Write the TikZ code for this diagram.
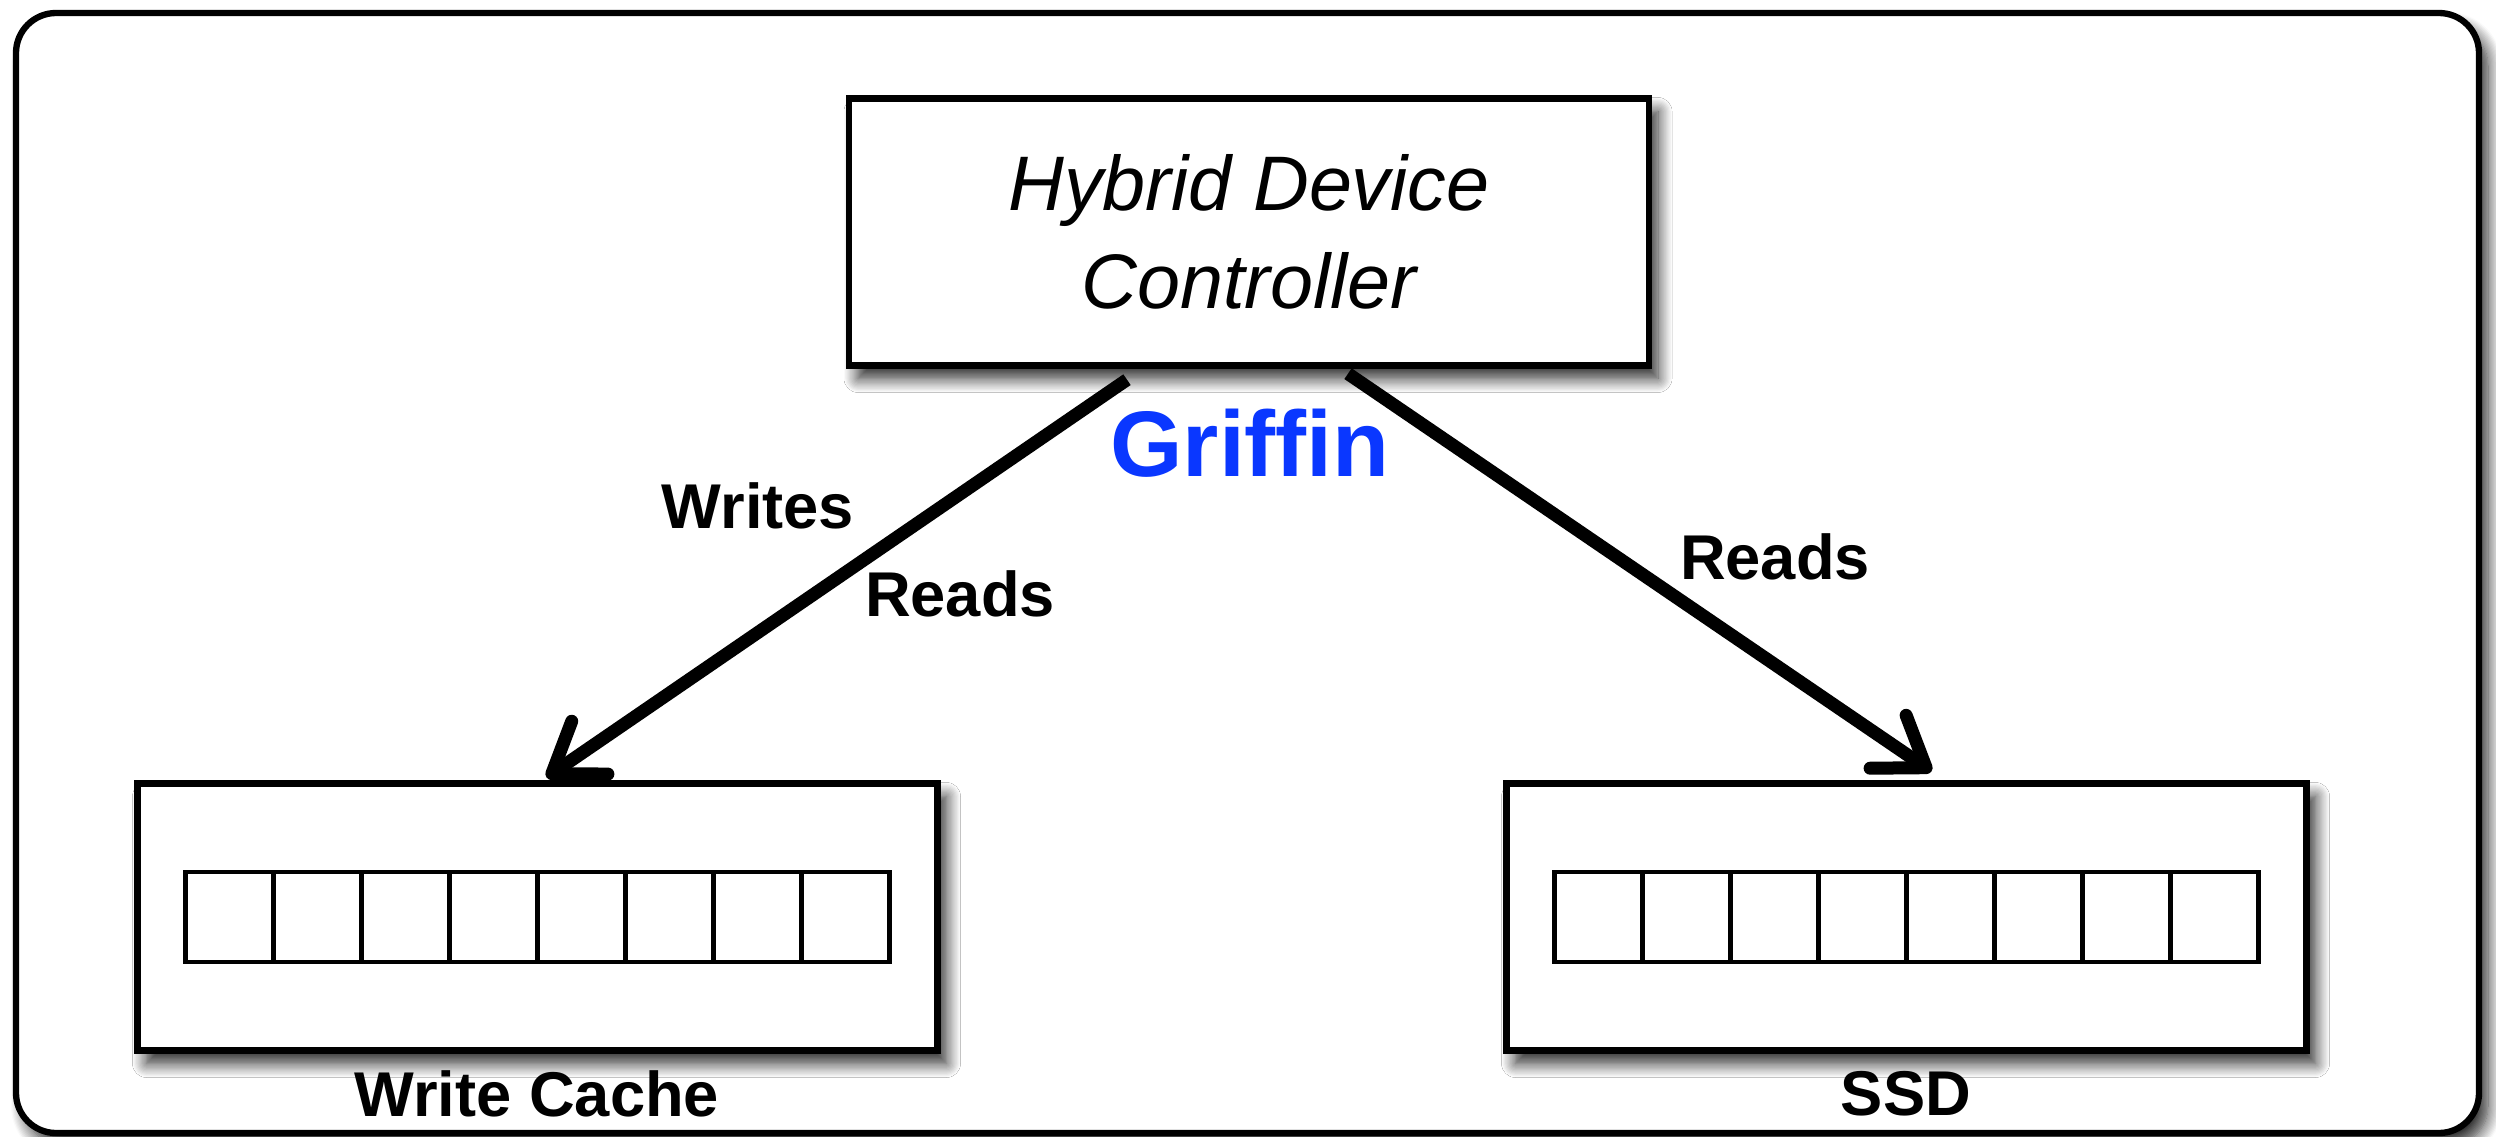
\documentclass[tikz,border=0pt]{standalone}
\usepackage{fontspec}
\setmainfont{Liberation Sans}
\usetikzlibrary{arrows.meta,positioning,calc,shadows.blur}
\definecolor{griffinblue}{RGB}{10,55,255}

\begin{document}
\begin{tikzpicture}[>=Latex, font=\sffamily]
  \tikzset{
    flow/.style={-{Straight Barb[length=4.6mm, width=6.4mm, round]}, line width=3.7pt},
    frame/.style={draw, line width=1.8pt, fill=white, blur shadow={shadow xshift=0.09cm, shadow yshift=-0.13cm, shadow blur radius=0.14cm, shadow blur steps=12, shadow opacity=85}},
    devbox/.style={frame, minimum width=8.0cm, minimum height=2.67cm, inner sep=0pt},
    cell/.style={draw, line width=1.3pt, minimum width=0.88cm, minimum height=0.9cm, inner sep=0pt},
    lbl/.style={font=\fontsize{18}{21}\selectfont\bfseries}
  }
  \useasboundingbox (0,0) rectangle (24.96,11.36);

  % Outer frame
  \node[frame, rounded corners=0.4cm, minimum width=24.63cm, minimum height=11.2cm] (outer) at (12.475,5.63) {};

  % Main nodes
  \node[devbox, align=center, font=\fontsize{22}{28}\selectfont\itshape] (ctrl) at (12.49,9.04) {Hybrid Device\\Controller};
  \node[devbox] (wcache) at (5.375,2.19) {};
  \node[devbox] (ssd) at (19.065,2.19) {};

  % Cell rows
  \foreach \i in {1,...,8} {
    \node[cell] (wc\i) at ($(wcache.center)+(\i*0.88-3.96,0)$) {};
    \node[cell] (sc\i) at ($(ssd.center)+(\i*0.88-3.96,0)$) {};
  }

  % Labels
  \node[lbl] (wclbl) at (5.37,0.42) {Write Cache};
  \node[lbl] (ssdlbl) at (19.06,0.42) {SSD};
  \node[font=\fontsize{26.5}{30}\selectfont\bfseries, text=griffinblue] (griffin) at (12.50,6.93) {Griffin};

  % Flow arrows
  \draw[flow] ([xshift=-1.22cm, yshift=-0.11cm]ctrl.south) -- ([xshift=0.09cm, yshift=0.03cm]wcache.north);
  \draw[flow] ([xshift=0.99cm, yshift=-0.05cm]ctrl.south) -- ([xshift=0.25cm, yshift=0.09cm]ssd.north);

  \node[lbl] (writes) at (7.58,6.30) {Writes};
  \node[lbl] (readsl) at (9.60,5.42) {Reads};
  \node[lbl] (readsr) at (17.75,5.79) {Reads};

\end{tikzpicture}
\end{document}
